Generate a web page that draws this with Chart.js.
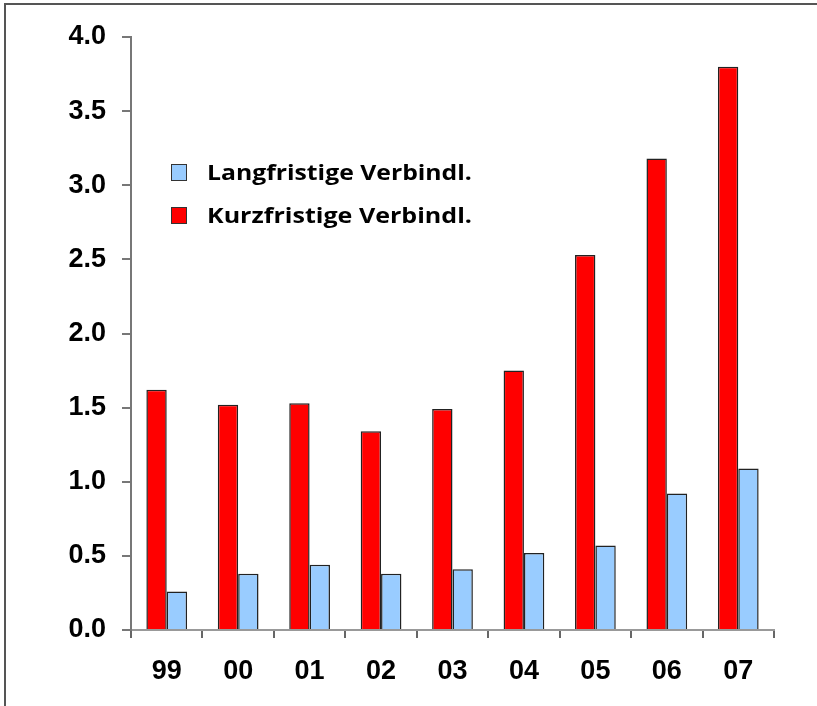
<!DOCTYPE html>
<html>
<head>
<meta charset="utf-8">
<script src="https://cdn.jsdelivr.net/npm/chart.js@4.4.0/dist/chart.umd.min.js"></script>
<style>
    body { margin: 0; background: #fff; }
    #wrap { position: relative; width: 817px; height: 706px; overflow: hidden; }
    #frame {
        position: absolute; left: 4px; top: 3px; width: 830px; height: 720px;
        border-left: 2px solid #555; border-top: 2px solid #555;
    }
    #legend {
        position: absolute; left: 171px; top: 149px;
        font-family: "Open Sans", Lato, sans-serif; font-weight: bold; font-size: 22px; color: #000;
    }
    .item { display: flex; align-items: center; height: 43px; }
    .box { width: 14px; height: 15px; border: 1.5px solid #333; margin-right: 20px; margin-top: 3px; }
    .txt { display: inline-block; transform-origin: left center; }
</style>
</head>
<body>
<div id="wrap">
    <div id="frame"></div>
    <canvas id="chart" width="817" height="706"></canvas>
    <div id="legend"></div>
</div>
<script>
// Werte in Mrd.
const years = ['99', '00', '01', '02', '03', '04', '05', '06', '07'];
const kurzfristig = [1.62, 1.52, 1.53, 1.34, 1.49, 1.75, 2.53, 3.18, 3.80];
const langfristig = [0.26, 0.38, 0.44, 0.38, 0.41, 0.52, 0.57, 0.92, 1.09];
const yTicks = [0, 0.5, 1, 1.5, 2, 2.5, 3, 3.5, 4];

const RED = '#ff0000';
const BLUE = '#99ccff';

// Legende (Langfristige zuerst, wie im Original)
const legendItems = [
    { label: 'Langfristige Verbindl.', color: BLUE },
    { label: 'Kurzfristige Verbindl.', color: RED }
];
const legendEl = document.getElementById('legend');
legendItems.forEach(item => {
    const row = document.createElement('div');
    row.className = 'item';
    const box = document.createElement('span');
    box.className = 'box';
    box.style.background = item.color;
    const txt = document.createElement('span');
    txt.className = 'txt';
    txt.textContent = item.label;
    row.appendChild(box);
    row.appendChild(txt);
    legendEl.appendChild(row);
});
// Textbreite an Original anpassen (~265px)
document.querySelectorAll('.txt').forEach(t => {
    const w = t.getBoundingClientRect().width;
    t.style.transform = 'scaleX(' + (265 / w).toFixed(3) + ')';
});

const ctx = document.getElementById('chart').getContext('2d');
new Chart(ctx, {
    type: 'bar',
    data: {
        labels: years,
        datasets: [{
            label: 'Kurzfristige Verbindl.',
            data: kurzfristig,
            backgroundColor: RED,
            borderColor: '#222',
            borderWidth: 1.5,
            barPercentage: 1,
            categoryPercentage: 0.57
        }, {
            label: 'Langfristige Verbindl.',
            data: langfristig,
            backgroundColor: BLUE,
            borderColor: '#222',
            borderWidth: 1.5,
            barPercentage: 1,
            categoryPercentage: 0.57
        }]
    },
    options: {
        responsive: false,
        animation: false,
        layout: {
            padding: { top: 37, right: 43, left: 0, bottom: 0 }
        },
        plugins: {
            legend: { display: false },
            tooltip: { enabled: false }
        },
        scales: {
            x: {
                grid: {
                    offset: true,
                    drawOnChartArea: false,
                    drawTicks: true,
                    tickLength: 8,
                    color: '#666',
                    lineWidth: 2
                },
                border: { display: true, color: '#999', width: 2 },
                ticks: {
                    color: '#000',
                    padding: 17,
                    font: { family: '"Liberation Sans", Arial, sans-serif', size: 27, weight: 'bold' }
                },
                afterFit: scale => { scale.height = 76; }
            },
            y: {
                min: 0,
                max: 4,
                afterBuildTicks: scale => {
                    scale.ticks = yTicks.map(v => ({ value: v }));
                },
                grid: {
                    drawOnChartArea: false,
                    drawTicks: true,
                    tickLength: 9,
                    color: '#777',
                    lineWidth: 2
                },
                border: { display: true, color: '#777', width: 2 },
                ticks: {
                    color: '#000',
                    padding: 16,
                    callback: v => v.toFixed(1),
                    font: { family: '"Liberation Sans", Arial, sans-serif', size: 27, weight: 'bold' }
                },
                afterFit: scale => { scale.width = 131; }
            }
        }
    }
});
</script>
</body>
</html>
